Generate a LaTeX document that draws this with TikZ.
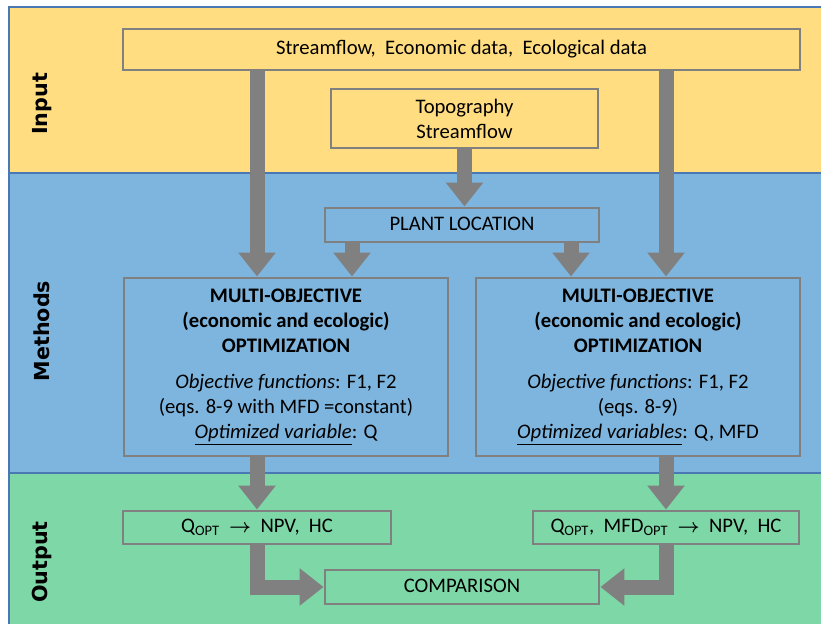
\documentclass[tikz,border=0pt]{standalone}
\usepackage{fontspec}
\setmainfont{Carlito}
\newfontfamily\lblfont{DejaVu Sans}
\usetikzlibrary{arrows.meta}
\definecolor{inyellow}{HTML}{FFDD80}
\definecolor{metblue}{HTML}{7EB5DE}
\definecolor{outgreen}{HTML}{7ED7A7}
\definecolor{bandline}{HTML}{4A78B4}
\definecolor{boxgray}{HTML}{808080}
\tikzset{
  band/.style={draw=bandline,line width=1.6pt},
  box/.style={draw=boxgray,line width=2.2pt,inner sep=0pt,align=center,
    font=\fontsize{15.5}{18.75}\selectfont},
  bigarrow/.style={draw=boxgray,line width=11.25pt,
    -{Triangle[width=27pt,length=18pt]}},
  lbl/.style={rotate=90,font=\lblfont\bfseries\fontsize{15.5}{18}\selectfont}
}
\newcommand{\goesto}{\ \ {\boldmath$\rightarrow$}\ \ }
\begin{document}
\begin{tikzpicture}[x=0.75pt,y=-0.75pt]
\useasboundingbox (0,0) rectangle (821,624);
\clip (0,0) rectangle (821,624);
% bands
\path[band,fill=inyellow] (9,7) rectangle (840,173);
\path[band,fill=metblue] (9,173) rectangle (840,473);
\path[band,fill=outgreen] (9,473) rectangle (840,640);
\node[lbl] (lin) at (42,104) {Input};
\node[lbl] (lmet) at (42,331) {Methods};
\node[lbl] (lout) at (42,562) {Output};

% boxes
\node[box,minimum width=507.75pt,minimum height=30.75pt] (inp) at (461.5,49.5)
  {\strut Streamflow,\ \ Economic data,\ \ Ecological data};
\node[box,minimum width=200.25pt,minimum height=44.25pt] (topo) at (464.5,118.5)
  {Topography\\Streamflow};
\node[box,minimum width=205.5pt,minimum height=25.5pt] (plant) at (462,225) {\strut PLANT LOCATION};
\node[box,minimum width=243pt,minimum height=133.5pt] (mol) at (286,367)
  {\textbf{MULTI-OBJECTIVE}\\\textbf{(economic and ecologic)}\\\textbf{OPTIMIZATION}\\[8.25pt]
   \textit{Objective functions}: F1, F2\\(eqs. 8-9 with MFD =constant)\\
   \underline{\textit{Optimized variable}}: Q};
\node[box,minimum width=243pt,minimum height=133.5pt] (mor) at (638,367)
  {\textbf{MULTI-OBJECTIVE}\\\textbf{(economic and ecologic)}\\\textbf{OPTIMIZATION}\\[8.25pt]
   \textit{Objective functions}: F1, F2\\(eqs. 8-9)\\
   \underline{\textit{Optimized variables}}: Q, MFD};
\node[box,minimum width=201pt,minimum height=24.75pt] (outl) at (257,527.5)
  {\strut Q\textsubscript{OPT}\goesto NPV,\ \ HC};
\node[box,minimum width=199.5pt,minimum height=24.75pt] (outr) at (666,527.5)
  {\strut Q\textsubscript{OPT},\ \ MFD\textsubscript{OPT}\goesto NPV,\ \ HC};
\node[box,minimum width=205.5pt,minimum height=25.5pt] (cmp) at (462,587) {\strut COMPARISON};

% arrows
\coordinate (pl1) at ([xshift=-82.5pt]plant.south);
\coordinate (pl2) at ([xshift=81.75pt]plant.south);
\path[bigarrow] (inp.south -| outl) -- (mol.north -| outl);
\path[bigarrow] (inp.south -| outr) -- (mor.north -| outr);
\path[bigarrow] (topo.south) -- (topo.south |- plant.north);
\path[bigarrow] (pl1) -- (pl1 |- mol.north);
\path[bigarrow] (pl2) -- (pl2 |- mor.north);
\path[bigarrow] (mol.south -| outl) -- (outl.north);
\path[bigarrow] (mor.south -| outr) -- (outr.north);
\path[bigarrow] (outl.south) |- (cmp.west);
\path[bigarrow] (outr.south) |- (cmp.east);
\end{tikzpicture}
\end{document}
